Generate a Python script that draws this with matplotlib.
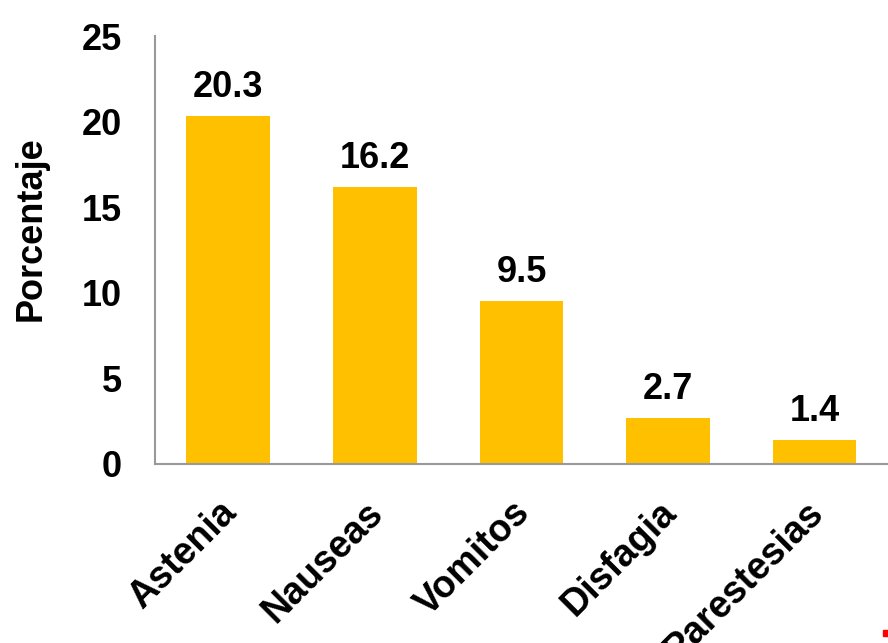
import matplotlib
matplotlib.use('Agg')
import matplotlib.pyplot as plt
from matplotlib.patches import Rectangle

# data
categories = ['Astenia', 'Nauseas', 'Vomitos', 'Disfagia', 'Parestesias']
values = [20.3, 16.2, 9.5, 2.7, 1.4]

plt.rcParams['font.family'] = ['Liberation Sans', 'DejaVu Sans']
plt.rcParams['font.weight'] = 'bold'

fig = plt.figure(figsize=(8.88, 6.43), dpi=100)
ax = fig.add_axes([0.1745, 0.2784, 0.8255, 0.6656])

x = list(range(len(categories)))
bars = ax.bar(x, values, width=0.57, color='#FFC000')
ax.set_xlim(-0.5, 4.5)
ax.set_ylim(0, 25)
ax.set_yticks([0, 5, 10, 15, 20, 25])

for b, v in zip(bars, values):
    ax.annotate(f'{v:.1f}', (b.get_x() + b.get_width() / 2, v),
                xytext=(0, 8), textcoords='offset points',
                ha='center', va='bottom', fontsize=26, fontweight='bold')

# category labels, rotated 45 deg
ax.set_xticks(x)
ax.set_xticklabels([])
for i, c in zip(x, categories):
    ax.annotate(c, (i, 0), xycoords=('data', 'axes fraction'),
                xytext=(-7, -22), textcoords='offset points',
                rotation=45, rotation_mode='anchor', ha='right', va='top',
                fontsize=27, fontweight='bold', annotation_clip=False)

ax.tick_params(axis='both', length=0)
ax.tick_params(axis='y', pad=24, labelsize=26)
ax.set_ylabel('Porcentaje', fontsize=26, fontweight='bold')
ax.yaxis.set_label_coords(-0.145, 0.55)

for s in ['top', 'right']:
    ax.spines[s].set_visible(False)
for s in ['left', 'bottom']:
    ax.spines[s].set_color('#999999')
    ax.spines[s].set_linewidth(1.5)

# small red mark in corner
fig.patches.append(Rectangle((883 / 888, 1 - 636 / 643), 5 / 888, 6 / 643,
                             transform=fig.transFigure, color='red', figure=fig))

fig.savefig('out.png', dpi=100)
